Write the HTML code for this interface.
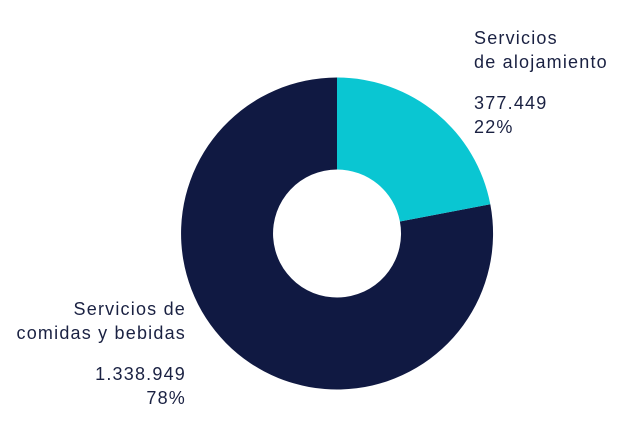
<!DOCTYPE html>
<html><head><meta charset="utf-8"><style>
html,body{margin:0;padding:0;background:#fff;}
body{width:619px;height:430px;position:relative;overflow:hidden;font-family:"Liberation Sans",sans-serif;color:#1a2142;}
.t{position:absolute;font-size:18px;line-height:24px;white-space:nowrap;letter-spacing:1.2px;}
</style></head><body>
<svg width="619" height="430" style="position:absolute;left:0;top:0">
<path d="M490.3,204.3 A156,156 0 1 1 337,77.5 L337,169.5 A64,64 0 1 0 399.9,221.5 Z" fill="#101942"/>
<path d="M337,77.5 A156,156 0 0 1 490.3,204.3 L399.9,221.5 A64,64 0 0 0 337,169.5 Z" fill="#0ac6d2"/>
</svg>
<div class="t" style="left:474px;top:26px">Servicios<br>de alojamiento</div>
<div class="t" style="left:474px;top:91px">377.449<br>22%</div>
<div class="t" style="right:433px;top:297px;text-align:right">Servicios de<br>comidas y bebidas</div>
<div class="t" style="right:433px;top:362px;text-align:right">1.338.949<br>78%</div>
</body></html>
